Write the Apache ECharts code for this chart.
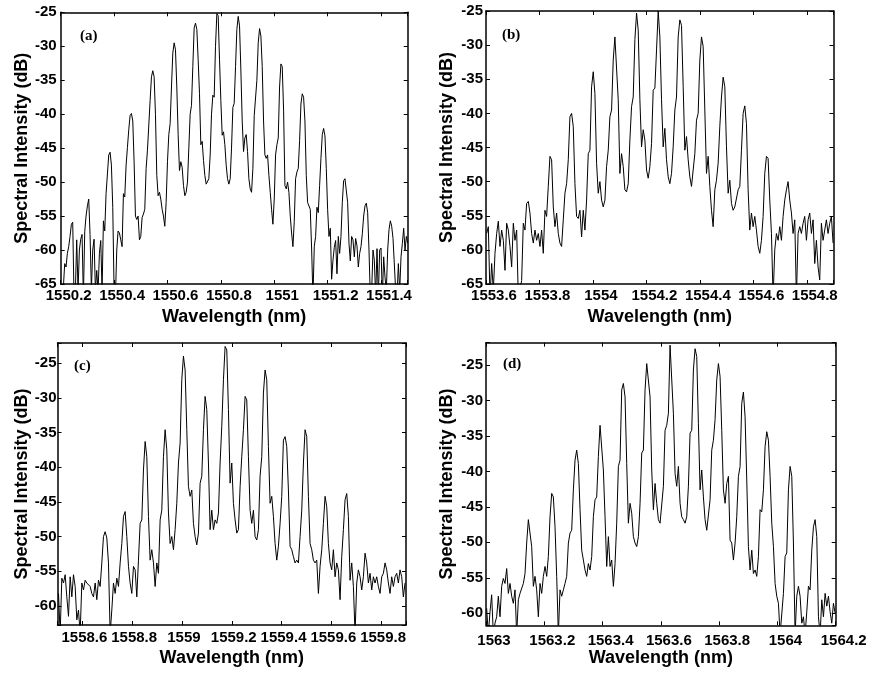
<!DOCTYPE html>
<html><head><meta charset="utf-8">
<script src="https://cdn.jsdelivr.net/npm/echarts@6/dist/echarts.min.js"></script>
<style>html,body{margin:0;padding:0;background:#fff}#c{width:871px;height:674px}</style>
</head><body><div id="c"></div>
<script>
// ---- data ----
const panelLabels = ['(a)', '(b)', '(c)', '(d)'];
const xAxisName = 'Wavelength (nm)';
const yAxisName = 'Spectral Intensity (dB)';
const xMin = [1550.2, 1553.6, 1558.5, 1563.0];
const xMax = [1551.5, 1554.9, 1559.9, 1564.2];
const yMin = [-65, -65, -62.75, -61.7];
const yMax = [-25, -25, -22.1, -21.85];
const xTickStep = 0.2;
const yTickStep = 5;
// sampling grid of each measured spectrum (start wavelength, sample spacing in nm)
const wlStart = [1550.2, 1553.6025, 1558.504, 1563.0023];
const wlStep = [0.005, 0.00623, 0.006693, 0.005721];

const intensityA = [
-67,-66,-65.5,-62,-62.5,-60.5,-59.5,-58,-56.2,-55.9,
-67,-66,-58.5,-66,-60,-58.4,-57.7,-67,-57.3,-55,
-53.5,-52.5,-57.7,-66,-60,-58.4,-66,-63,-66,-60.5,
-58.6,-66,-55.7,-57.2,-51.7,-48.8,-46,-45.6,-47.5,-53.7,
-66,-67,-60,-57.2,-57.5,-58.5,-59.5,-51.7,-52.2,-47.5,
-44.9,-42.3,-40.2,-39.9,-41,-47,-55,-55.5,-55,-58.5,
-58,-55.2,-54.7,-54,-48,-45.3,-45.5,-38,-34.5,-33.6,
-34.5,-40,-49,-52,-51.5,-52.5,-54,-55,-56.5,-53,
-47,-43,-41.4,-36,-31,-29.5,-30.5,-36,-43,-48.3,
-47,-47.8,-50.5,-52,-51.5,-50,-45,-40,-38.7,-33,
-27.3,-26.6,-27.5,-32,-37,-44.5,-44,-46.8,-49,-50.3,
-50.5,-49.5,-46,-40,-37.2,-37.5,-30,-25.2,-25.5,-32,
-38,-43.1,-42.6,-44.5,-47.5,-49.5,-50.3,-49.5,-45,-39,
-38.4,-33,-27.5,-25.6,-27,-33.5,-41,-45.5,-43.5,-43,
-45.5,-49.5,-51,-51.5,-48,-40.2,-40,-35,-29.5,-27.4,
-28.5,-33,-41,-46,-46.5,-46,-49,-51.5,-54,-56.2,
-52.5,-46,-44.5,-43.5,-36,-32.6,-33,-39.4,-50.5,-51,
-50,-51.5,-55,-57.5,-59.5,-55.8,-49.5,-48.5,-48,-43.9,
-38.5,-37,-37.5,-41,-49,-53,-53.2,-54,-59.7,-67,
-59.5,-58,-53.7,-54.5,-50.5,-46.5,-43,-42.1,-43.2,-48,
-54,-58,-56.8,-64.3,-61.5,-59.6,-58.6,-63.5,-58,-60.5,
-58,-53,-49.8,-49.5,-49.7,-53,-59,-61.6,-58,-58.5,
-61,-58.3,-59.4,-62.5,-60.5,-59.5,-57.6,-55,-53.5,-53.1,
-54.5,-60,-67,-66,-60,-61.5,-67,-59.8,-67,-60,
-59.7,-67,-61,-64,-66,-60,-57,-55.7,-56.5,-58.3,
-58.5,-66,-67,-62,-66,-61,-59,-56.8,-60,-58,
-59
];

const intensityB = [
-57.6,-56.6,-67,-62,-66,-60.5,-57.6,-55.8,-59.5,-57.1,
-58.6,-63,-56.1,-57.1,-59.5,-62.5,-56.1,-58.6,-57.1,-67,
-67,-64.5,-56.1,-57.1,-53.2,-52.9,-54.6,-57.6,-59,-57.1,
-58.6,-57.6,-59.5,-57.1,-60.5,-54.2,-55.1,-50.7,-46.3,-46.8,
-53.7,-56.6,-54.6,-57.6,-59,-59.5,-55.6,-51.7,-50.3,-46.8,
-40.5,-40,-41.9,-50.3,-55.1,-55.4,-54.2,-58.1,-54.2,-57.1,
-52.7,-45.9,-45.4,-36.1,-33.9,-37.1,-47.3,-51.7,-50,-52.7,
-53.7,-52.7,-47.8,-45.4,-40.5,-39.5,-32.2,-28.8,-29,-38,
-48.8,-45.9,-47.8,-51.2,-51.5,-50.3,-43.9,-39,-37.6,-29.2,
-25.3,-27.8,-38,-44.9,-42.4,-43.9,-48.3,-49.5,-47.8,-44.4,
-36.6,-36.3,-30.7,-25,-28.8,-38,-44.9,-42.2,-46.8,-49.3,
-50.3,-48.8,-44.9,-39.5,-37.6,-28.8,-26.3,-27.1,-36.1,-45.4,
-43.4,-46.8,-49.3,-50.7,-50.7,-45.9,-41,-40,-32.2,-28.8,
-30.2,-39.5,-48.8,-46.3,-50.7,-54.2,-56.6,-51.2,-49.8,-47.3,
-41.9,-37.6,-34.7,-36.1,-44.9,-51.7,-49.8,-53.2,-54.2,-53.7,
-53.7,-51.2,-50.7,-45.4,-40,-38.9,-41.5,-51.2,-57.1,-54.6,
-56.6,-55.1,-57.1,-59.5,-60.5,-58.6,-55.1,-48.8,-46.3,-46.6,
-52.7,-57.6,-67,-60,-57.6,-58.6,-56.6,-58.6,-55.1,-52.7,
-51.2,-50,-52.7,-54.6,-57.6,-55.6,-67,-57.6,-56.6,-57.6,
-56.1,-55.1,-58.6,-55.6,-54.6,-57.6,-55.6,-62,-58.6,-62.5,
-64.4,-56.1,-58.6,-57.1,-55.6,-57.6,-56.1,-55.1,-59
];

const intensityC = [
-58.2,-64,-56,-56.7,-55.5,-58.7,-61.5,-55.8,-58.7,-55.5,
-57.2,-62,-60.6,-64,-56.7,-57.7,-56.3,-56.7,-56.5,-57.2,
-58.2,-58.7,-56.7,-59.1,-56.3,-57.2,-53.8,-50,-49.3,-50.2,
-53.8,-64,-60.6,-56.7,-58.2,-56,-57.2,-53.8,-51,-47.1,
-46.4,-50,-54.3,-56.7,-58.2,-54.3,-54.8,-58.7,-53.4,-48.1,
-47.6,-40.4,-36.3,-38.5,-47.1,-53.4,-51.9,-53.8,-57.2,-53.8,
-55.3,-47.6,-46.2,-38.5,-34.6,-37.5,-46.6,-51,-50,-51.9,
-49,-45.2,-39.4,-36.5,-27.4,-24,-26,-34.6,-42.8,-44.2,
-43.3,-48.1,-50,-51.2,-49.5,-42.3,-41.3,-34.6,-29.8,-31.7,
-39.4,-49,-46.2,-49,-47.6,-48.1,-46.6,-39.4,-34.1,-27.4,
-22.6,-23.1,-31.7,-42.3,-39.4,-45.2,-47.6,-49.5,-49,-42.8,
-38.5,-34.6,-29.8,-30.3,-38.5,-46.2,-48.1,-46.2,-50,-50.5,
-49,-41.3,-38.5,-29.3,-26,-27.4,-37,-45.2,-44.2,-47.1,
-51,-53.4,-51.4,-48.1,-44.2,-36.1,-35.6,-37,-43.3,-51.4,
-51.9,-52.9,-53.8,-53.4,-53.8,-50,-46.2,-39.4,-34.6,-35.6,
-44.2,-51,-51.9,-53.4,-53.8,-53.4,-58.2,-54.3,-51.9,-48.1,
-44.2,-45.7,-51,-53.8,-54.8,-51.9,-55.8,-53.8,-54.8,-59.1,
-52.9,-49,-44.7,-43.8,-47.1,-56.3,-53.8,-57.2,-64,-56.7,
-54.8,-55.8,-57.7,-55.8,-52.4,-53.8,-56.7,-55.3,-57.7,-55.8,
-56.7,-55.8,-57.2,-58.2,-55.8,-55.3,-53.8,-54.8,-56.7,-58.2,
-55.8,-57.2,-55.8,-55.3,-56.7,-54.8,-55.8,-58.7,-56.7
];

const intensityD = [
-59.3,-63,-59.8,-57.4,-63,-61.4,-60.5,-57.6,-60.5,-56.2,
-55.1,-55.8,-53.7,-57.2,-55.8,-57.6,-58.6,-56.7,-63,-58.1,
-57.2,-57.2,-55.8,-54.4,-50.1,-46.8,-46.8,-50.6,-56.2,-54.8,
-56.7,-60.5,-55.8,-57.2,-54.8,-53.4,-54.8,-52,-46.4,-43.1,
-43.6,-47.8,-54.8,-63,-56.7,-57.6,-56.7,-55.8,-54.8,-50.1,
-48.7,-48.3,-42.6,-38.4,-37,-38.9,-45.4,-51.1,-52.5,-53.9,
-54.8,-53,-53.9,-52,-46.4,-44,-43.6,-37.9,-33.5,-33.7,
-39.8,-46.4,-53.4,-49.2,-53.4,-52.5,-56.2,-53,-47.3,-39.3,
-38.4,-28.5,-27.6,-29.5,-38.9,-47.3,-44.5,-45.9,-49.2,-50.1,
-50.6,-49.2,-44.5,-37.4,-37,-28.5,-24.8,-24.8,-29.5,-39.8,
-45.4,-41.7,-44.5,-46.8,-47.3,-47.3,-42.1,-34.2,-33.5,-31.8,
-22.2,-22.2,-31.8,-40.3,-42.1,-39.3,-44.5,-46.4,-46.8,-47.3,
-46.4,-42.1,-34.6,-34.2,-25.7,-22.7,-23.8,-33.2,-42.6,-39.8,
-43.6,-46.8,-48.3,-48.3,-44,-37,-35.6,-32.7,-27.1,-24.8,
-26.6,-34.2,-42.6,-44.5,-41.7,-40.7,-49.7,-50.1,-52.5,-50.1,
-46.4,-40.7,-39.3,-30.4,-28.8,-32.3,-41.2,-50.6,-53.9,-51.1,
-54.4,-53.9,-54.8,-52,-45.4,-45.7,-42.6,-36.5,-34.4,-35.6,
-40.7,-47.3,-50.6,-55.8,-57.6,-58.6,-63,-63,-57.2,-52,
-51.5,-42.6,-39.3,-40.7,-50.1,-63,-57.6,-56.2,-57.6,-61.4,
-60.5,-63,-59.8,-56.2,-56.7,-51.1,-47.8,-46.8,-49.2,-60.5,
-63,-58.1,-60.5,-57.2,-59,-57.6,-59.8,-61.4,-58.6,-60
];

const intensities = [intensityA, intensityB, intensityC, intensityD];

// ---- layout ----
const grids = [
  { left: 60.7, top: 12.3, width: 347, height: 271.7 },
  { left: 486, top: 11, width: 347.5, height: 273 },
  { left: 57.5, top: 343, width: 348.5, height: 282 },
  { left: 486, top: 342.7, width: 349.7, height: 282.6 }
];
const xLabelMargin = [4, 4, 5, 8];
const xLabelShift = [16, 16, 4, 16];
const yNameGap = [28, 30, 24.5, 30];
const yLabelMargin = [4, 3, 1, 3];
const titlePos = [[80, 29], [502, 28], [74, 359], [503, 357]];

const FONT = 'Liberation Sans';
const onStep = (v, s) => Math.abs(v / s - Math.round(v / s)) < 1e-6;
const fmt = v => String(Number(v.toFixed(1)));

const option = {
  animation: false,
  backgroundColor: '#fff',
  grid: grids.map(g => Object.assign({ containLabel: false }, g)),
  title: panelLabels.map((t, i) => ({
    text: t, left: titlePos[i][0], top: titlePos[i][1], padding: 0,
    textStyle: { fontFamily: 'Liberation Serif', fontWeight: 'bold', fontSize: 15, color: '#000' }
  })),
  xAxis: [],
  yAxis: [],
  series: []
};

const axisLineStyle = { show: true, lineStyle: { color: '#000', width: 1.5 } };
const tickStyle = { show: true, inside: true, length: 4, lineStyle: { color: '#000', width: 1 } };

for (let p = 0; p < 4; p++) {
  const xExtra = (p === 2) ? { splitNumber: 7, minInterval: xTickStep, maxInterval: xTickStep } : { interval: xTickStep };
  const yExtra = (p >= 2) ? { splitNumber: 8, minInterval: yTickStep, maxInterval: yTickStep } : { interval: yTickStep };
  option.xAxis.push(Object.assign({
    type: 'value', gridIndex: p, position: 'bottom', min: xMin[p], max: xMax[p],
    name: xAxisName, nameLocation: 'middle', nameGap: 24,
    nameTextStyle: { fontFamily: FONT, fontWeight: 'bold', fontSize: 18, color: '#000' },
    axisLine: axisLineStyle, axisTick: tickStyle, splitLine: { show: false },
    axisLabel: {
      margin: xLabelMargin[p], padding: [0, 0, 0, xLabelShift[p]],
      fontFamily: FONT, fontWeight: 'bold', fontSize: 15, color: '#000',
      formatter: v => onStep(v, xTickStep) ? fmt(v) : ''
    }
  }, xExtra));
  option.xAxis.push(Object.assign({
    type: 'value', gridIndex: p, position: 'top', min: xMin[p], max: xMax[p],
    axisLine: axisLineStyle, axisTick: tickStyle, splitLine: { show: false }, axisLabel: { show: false }
  }, xExtra));
  option.yAxis.push(Object.assign({
    type: 'value', gridIndex: p, position: 'left', min: yMin[p], max: yMax[p],
    name: yAxisName, nameLocation: 'middle', nameGap: yNameGap[p],
    nameTextStyle: { fontFamily: FONT, fontWeight: 'bold', fontSize: 18, color: '#000' },
    axisLine: axisLineStyle, axisTick: tickStyle, splitLine: { show: false },
    axisLabel: {
      margin: yLabelMargin[p], fontFamily: FONT, fontWeight: 'bold', fontSize: 15, color: '#000',
      formatter: v => onStep(v, yTickStep) ? String(Math.round(v)) : ''
    }
  }, yExtra));
  option.yAxis.push(Object.assign({
    type: 'value', gridIndex: p, position: 'right', min: yMin[p], max: yMax[p],
    axisLine: axisLineStyle, axisTick: tickStyle, splitLine: { show: false }, axisLabel: { show: false }
  }, yExtra));
  option.series.push({
    type: 'line', xAxisIndex: 2 * p, yAxisIndex: 2 * p,
    data: intensities[p].map((v, i) => [wlStart[p] + i * wlStep[p], v]),
    showSymbol: false, symbol: 'none', clip: true,
    lineStyle: { color: '#000', width: 1 }
  });
}

const chart = echarts.init(document.getElementById('c'), null, { renderer: 'canvas' });
chart.setOption(option);
</script>
</body></html>
